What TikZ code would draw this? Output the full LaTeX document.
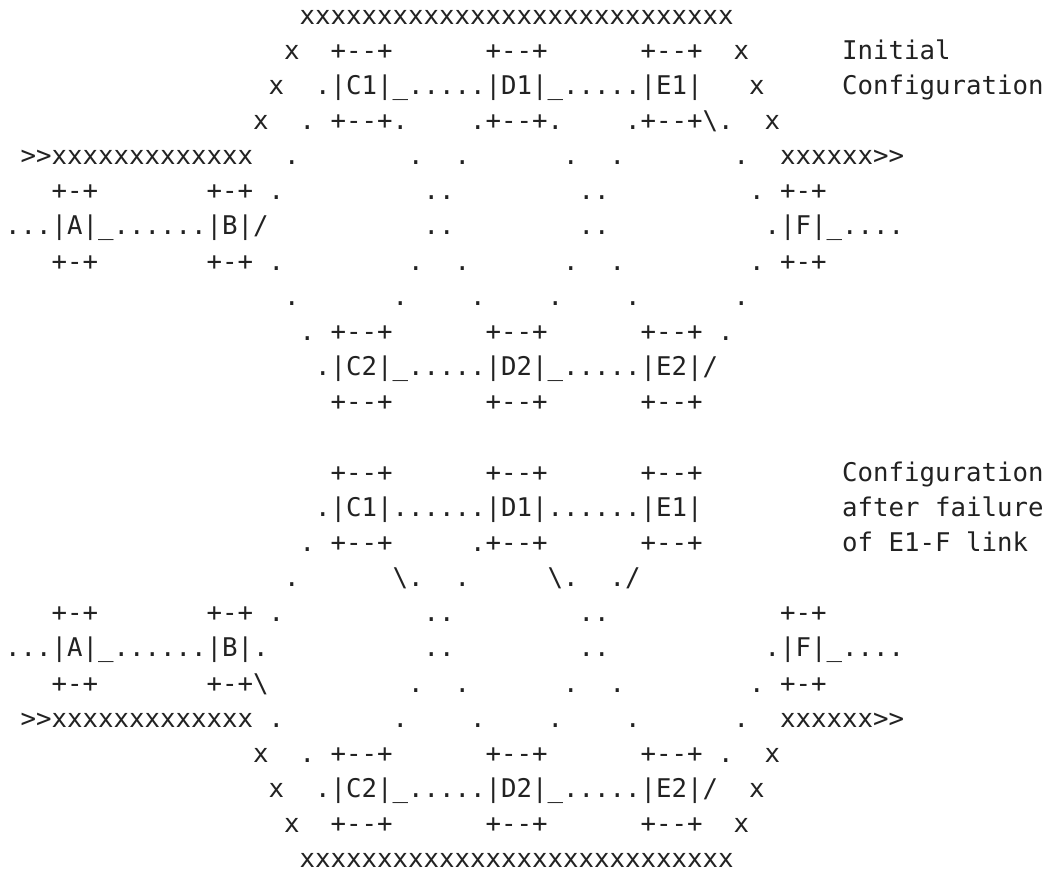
\documentclass[tikz,border=0pt]{standalone}
\usepackage{fontspec}
\setmonofont{DejaVu Sans Mono}
\usepackage{tikz}
\usepackage{xcolor}
\definecolor{ink}{HTML}{222222}

\tikzset{
  row/.style={anchor=base west, inner sep=0pt, text=ink,
    font=\ttfamily\fontsize{25.74pt}{30pt}\selectfont}
}

\begin{document}
\begin{tikzpicture}[x=15.5pt, y=-35.16pt]
  \useasboundingbox (-5pt,-11.16pt) rectangle (1049pt,-890.16pt);
  % initial configuration
  \node[row] (r1)  at (19,1)  {xxxxxxxxxxxxxxxxxxxxxxxxxxxx};
  \node[row] (r2)  at (18,2)  {x~~+--+~~~~~~+--+~~~~~~+--+~~x~~~~~~Initial};
  \node[row] (r3)  at (17,3)  {x~~.|C1|\_.....|D1|\_.....|E1|~~~x~~~~~Configuration};
  \node[row] (r4)  at (16,4)  {x~~.~+--+.~~~~.+--+.~~~~.+--+\textbackslash.~~x};
  \node[row] (r5)  at (1,5)   {>>xxxxxxxxxxxxx~~.~~~~~~~.~~.~~~~~~.~~.~~~~~~~.~~xxxxxx>>};
  \node[row] (r6)  at (3,6)   {+-+~~~~~~~+-+~.~~~~~~~~~..~~~~~~~~..~~~~~~~~~.~+-+};
  \node[row] (r7)  at (0,7)   {...|A|\_......|B|/~~~~~~~~~~..~~~~~~~~..~~~~~~~~~~.|F|\_....};
  \node[row] (r8)  at (3,8)   {+-+~~~~~~~+-+~.~~~~~~~~.~~.~~~~~~.~~.~~~~~~~~.~+-+};
  \node[row] (r9)  at (18,9)  {.~~~~~~.~~~~.~~~~.~~~~.~~~~~~.};
  \node[row] (r10) at (19,10) {.~+--+~~~~~~+--+~~~~~~+--+~.};
  \node[row] (r11) at (20,11) {.|C2|\_.....|D2|\_.....|E2|/};
  \node[row] (r12) at (21,12) {+--+~~~~~~+--+~~~~~~+--+};
  % after failure of E1-F
  \node[row] (r14) at (21,14) {+--+~~~~~~+--+~~~~~~+--+~~~~~~~~~Configuration};
  \node[row] (r15) at (20,15) {.|C1|......|D1|......|E1|~~~~~~~~~after~failure};
  \node[row] (r16) at (19,16) {.~+--+~~~~~.+--+~~~~~~+--+~~~~~~~~~of~E1-F~link};
  \node[row] (r17) at (18,17) {.~~~~~~\textbackslash.~~.~~~~~\textbackslash.~~./};
  \node[row] (r18) at (3,18)  {+-+~~~~~~~+-+~.~~~~~~~~~..~~~~~~~~..~~~~~~~~~~~+-+};
  \node[row] (r19) at (0,19)  {...|A|\_......|B|.~~~~~~~~~~..~~~~~~~~..~~~~~~~~~~.|F|\_....};
  \node[row] (r20) at (3,20)  {+-+~~~~~~~+-+\textbackslash~~~~~~~~~.~~.~~~~~~.~~.~~~~~~~~.~+-+};
  \node[row] (r21) at (1,21)  {>>xxxxxxxxxxxxx~.~~~~~~~.~~~~.~~~~.~~~~.~~~~~~.~~xxxxxx>>};
  \node[row] (r22) at (16,22) {x~~.~+--+~~~~~~+--+~~~~~~+--+~.~~x};
  \node[row] (r23) at (17,23) {x~~.|C2|\_.....|D2|\_.....|E2|/~~x};
  \node[row] (r24) at (18,24) {x~~+--+~~~~~~+--+~~~~~~+--+~~x};
  \node[row] (r25) at (19,25) {xxxxxxxxxxxxxxxxxxxxxxxxxxxx};
\end{tikzpicture}
\end{document}
